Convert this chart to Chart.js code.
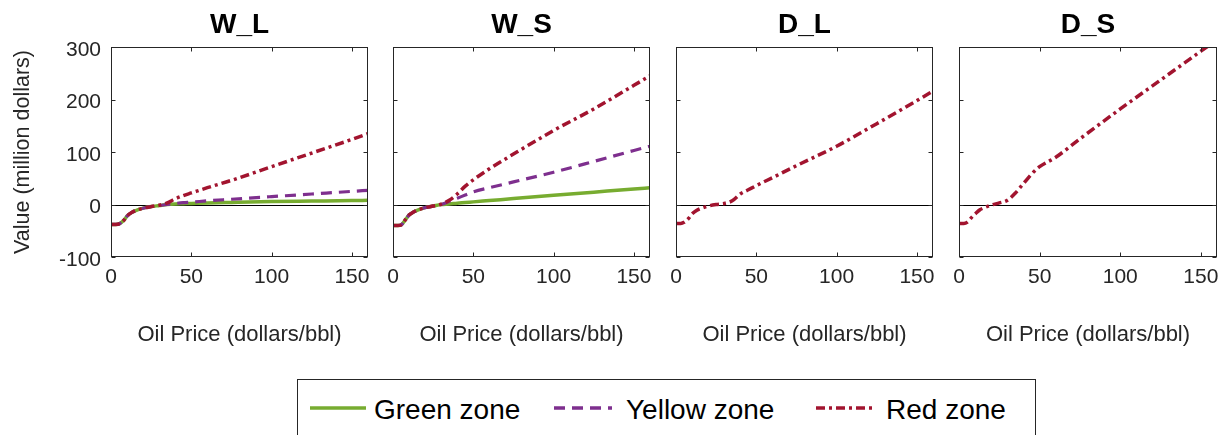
<!DOCTYPE html>
<html>
<head>
<meta charset="utf-8">
<title>Oil price value curves</title>
<script src="https://cdn.jsdelivr.net/npm/chart.js@4.4.1/dist/chart.umd.min.js"></script>
<style>
  body {
    margin: 0;
    width: 1223px;
    height: 435px;
    overflow: hidden;
    position: relative;
    background: #fff;
    font-family: "Liberation Sans", Arial, sans-serif;
  }
  canvas { position: absolute; top: 0; }
  #legend {
    position: absolute;
    left: 297px; top: 379px;
    width: 739px; height: 70px;
    border: 1px solid #262626;
    box-sizing: border-box;
  }
  .key { position: absolute; top: 398px; }
  .lbl {
    position: absolute;
    top: 396px;
    font-size: 28px;
    line-height: 28px;
    color: #000;
    white-space: nowrap;
  }
</style>
</head>
<body>
<canvas id="p0" width="372" height="350" style="left:0px"></canvas>
<canvas id="p1" width="271" height="350" style="left:383px"></canvas>
<canvas id="p2" width="271" height="350" style="left:666px"></canvas>
<canvas id="p3" width="272" height="350" style="left:949px"></canvas>

<div id="legend"></div>
<svg class="key" style="left:310px" width="56" height="20"><line x1="0" y1="10" x2="56" y2="10" stroke="#77AC30" stroke-width="3.5"/></svg>
<div class="lbl" style="left:374px">Green zone</div>
<svg class="key" style="left:554px" width="58" height="20"><line x1="0" y1="10" x2="58" y2="10" stroke="#7E2F8E" stroke-width="3.5" stroke-dasharray="11 7"/></svg>
<div class="lbl" style="left:626px">Yellow zone</div>
<svg class="key" style="left:816px" width="57" height="20"><line x1="0" y1="10" x2="57" y2="10" stroke="#A2142F" stroke-width="3.5" stroke-dasharray="9 4 3 4"/></svg>
<div class="lbl" style="left:886px">Red zone</div>

<script>
// == Data ==
const oilPrice = [0, 3, 5, 8, 10, 13, 15, 20, 25, 30, 35, 40, 45, 50, 60, 75, 100, 125, 150, 160];
const panelTitles = ["W_L", "W_S", "D_L", "D_S"];
const xTickValues = [0, 50, 100, 150];
const yTickValues = [-100, 0, 100, 200, 300];
const seriesNames = ["Green zone", "Yellow zone", "Red zone"];

// W_L
const wlGreen  = [-38, -38, -37, -30, -22, -15, -12, -7, -4, -2, 0, 1, 1.5, 2, 3, 4, 5.5, 6.5, 7.5, 8];
const wlYellow = [-38, -38, -37, -30, -22, -15, -12, -7, -4, -2, 0, 2, 3.5, 4.5, 7, 10, 15, 20, 25, 27];
const wlRed    = [-38, -38, -37, -30, -22, -15, -12, -7, -4, -1.5, 3, 11, 17, 22, 32, 46, 72, 98, 124, 135];

// W_S
const wsGreen  = [-40, -40, -39, -28, -20, -14, -11, -6, -3, 0, 1, 2.5, 3.7, 5, 7.5, 11.3, 17.5, 23.5, 29.5, 32];
const wsYellow = [-40, -40, -39, -28, -20, -14, -11, -6, -3, 0, 6, 12, 18, 24, 32, 43, 61.5, 82, 103, 111];
const wsRed    = [-40, -40, -39, -28, -20, -14, -11, -6, -3, 0.5, 8, 20, 35, 47, 68, 96, 141, 182, 227, 245];

// D_L
const dlRed    = [-36, -36, -34, -26, -18, -11, -8, -3, 0, 2, 7, 20, 28, 36, 51, 74, 111, 154, 198, 216];

// D_S
const dsRed    = [-36, -36, -34, -24, -18, -10, -7, -1, 3, 8, 22, 40, 58, 72, 90, 125, 182, 237, 292, 314];

// == Styles ==
const lineStyles = [
  { color: "#77AC30", width: 3.5, dash: [] },
  { color: "#7E2F8E", width: 3.2, dash: [11, 7] },
  { color: "#A2142F", width: 3.5, dash: [9, 4, 3, 4] }
];
const FONT = "'Liberation Sans', Arial, sans-serif";
const INK = "#262626";

// == Frame plugin: zero line, box, inward ticks (MATLAB look) ==
const framePlugin = {
  id: "frame",
  beforeDatasetsDraw(chart) {
    const { ctx, chartArea: a, scales } = chart;
    const y0 = Math.round(scales.y.getPixelForValue(0)) + 0.5;
    ctx.save();
    ctx.strokeStyle = "#000";
    ctx.lineWidth = 1;
    ctx.beginPath();
    ctx.moveTo(a.left, y0);
    ctx.lineTo(a.right, y0);
    ctx.stroke();
    ctx.restore();
  },
  afterDatasetsDraw(chart) {
    const { ctx, chartArea: a, scales } = chart;
    const L = Math.round(a.left) + 0.5, R = Math.round(a.right) - 0.5;
    const T = Math.round(a.top) + 0.5, B = Math.round(a.bottom) - 0.5;
    const tk = 4;
    ctx.save();
    ctx.strokeStyle = INK;
    ctx.lineWidth = 1;
    ctx.strokeRect(L, T, R - L, B - T);
    ctx.beginPath();
    xTickValues.forEach(v => {
      const px = Math.round(scales.x.getPixelForValue(v)) + 0.5;
      ctx.moveTo(px, B); ctx.lineTo(px, B - tk);
      ctx.moveTo(px, T); ctx.lineTo(px, T + tk);
    });
    yTickValues.forEach(v => {
      const py = Math.round(scales.y.getPixelForValue(v)) + 0.5;
      ctx.moveTo(L, py); ctx.lineTo(L + tk, py);
      ctx.moveTo(R, py); ctx.lineTo(R - tk, py);
    });
    ctx.stroke();
    ctx.restore();
  }
};

function buildDatasets(seriesList) {
  // red on top, then yellow, then green
  return seriesList.map(s => ({
    label: seriesNames[s.idx],
    data: oilPrice.map((x, i) => ({ x: x, y: s.values[i] })),
    borderColor: lineStyles[s.idx].color,
    borderWidth: lineStyles[s.idx].width,
    borderDash: lineStyles[s.idx].dash,
    pointRadius: 0,
    fill: false,
    cubicInterpolationMode: "monotone",
    order: 2 - s.idx
  }));
}

function makePanel(canvasId, title, seriesList, showY) {
  const yAxisWidth = showY ? 111 : 0;
  new Chart(document.getElementById(canvasId), {
    type: "line",
    data: { datasets: buildDatasets(seriesList) },
    options: {
      responsive: false,
      animation: false,
      events: [],
      layout: { padding: { left: showY ? 0 : 10, right: 4, top: 0, bottom: 0 } },
      plugins: {
        legend: { display: false },
        tooltip: { enabled: false },
        title: {
          display: true,
          text: title,
          fullSize: false,
          color: "#000",
          font: { family: FONT, size: 28, weight: "bold" },
          padding: { top: 8, bottom: 5.4 }
        }
      },
      scales: {
        x: {
          type: "linear",
          min: 0,
          max: 160,
          grid: { display: false, drawTicks: false },
          border: { display: false },
          afterBuildTicks: scale => { scale.ticks = xTickValues.map(v => ({ value: v })); },
          afterFit: scale => {
            scale.height = 93;
            scale.paddingLeft = 0;
            scale.paddingRight = 0;
          },
          ticks: {
            color: INK,
            padding: 8,
            maxRotation: 0,
            autoSkip: false,
            font: { family: FONT, size: 21 }
          },
          title: {
            display: true,
            text: "Oil Price (dollars/bbl)",
            color: INK,
            font: { family: FONT, size: 22 },
            padding: { top: 0, bottom: 2 }
          }
        },
        y: {
          type: "linear",
          min: -100,
          max: 300,
          display: showY,
          grid: { display: false, drawTicks: false },
          border: { display: false },
          afterBuildTicks: scale => { scale.ticks = yTickValues.map(v => ({ value: v })); },
          afterFit: scale => {
            scale.width = yAxisWidth;
            scale.paddingTop = 0;
            scale.paddingBottom = 0;
          },
          ticks: {
            color: INK,
            padding: 10,
            labelOffset: 3,
            font: { family: FONT, size: 21 }
          },
          title: {
            display: true,
            text: "Value (million dollars)",
            color: INK,
            font: { family: FONT, size: 21.5 },
            padding: { top: 10, bottom: 0 }
          }
        }
      }
    },
    plugins: [framePlugin]
  });
}

// == Panels ==
makePanel("p0", panelTitles[0], [
  { idx: 2, values: wlRed },
  { idx: 1, values: wlYellow },
  { idx: 0, values: wlGreen }
], true);

makePanel("p1", panelTitles[1], [
  { idx: 2, values: wsRed },
  { idx: 1, values: wsYellow },
  { idx: 0, values: wsGreen }
], false);

makePanel("p2", panelTitles[2], [
  { idx: 2, values: dlRed }
], false);

makePanel("p3", panelTitles[3], [
  { idx: 2, values: dsRed }
], false);
</script>
</body>
</html>
